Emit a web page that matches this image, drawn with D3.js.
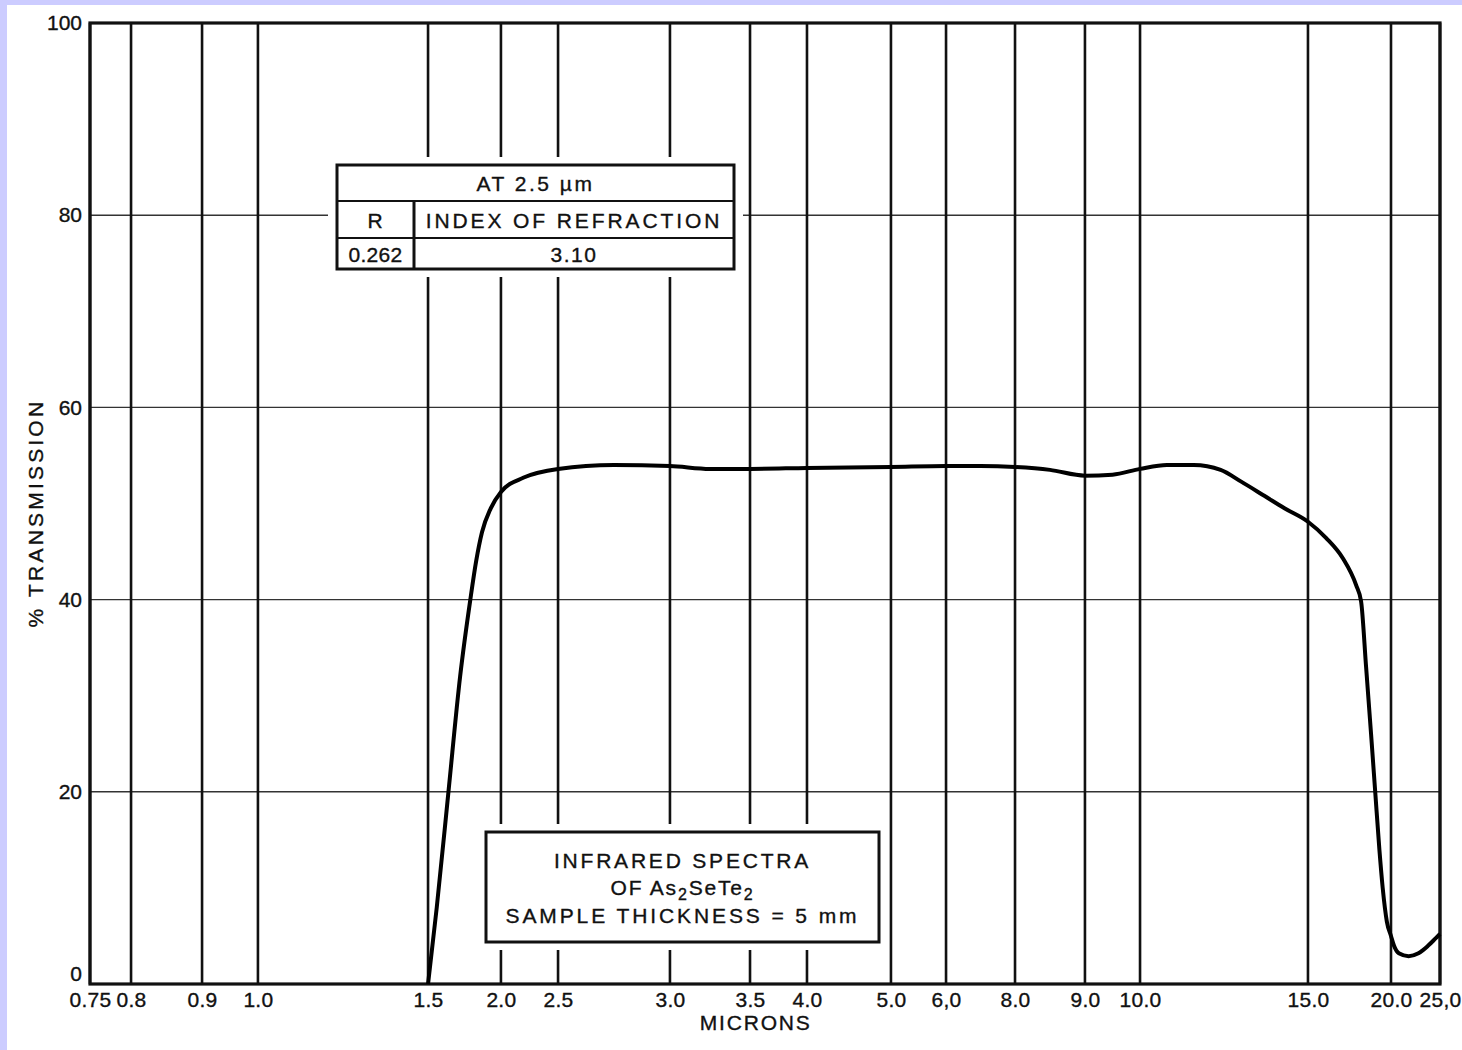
<!DOCTYPE html>
<html>
<head>
<meta charset="utf-8">
<script src="https://cdn.jsdelivr.net/npm/d3@7"></script>
<style>
  html, body { margin: 0; padding: 0; background: #ccccff; }
  #chart { position: absolute; left: 7px; top: 5px; width: 1455px; height: 1045px; background: #fff; }
  svg { position: absolute; left: -7px; top: -5px; }
  text { font-family: "Liberation Sans", Arial, sans-serif; fill: #111; stroke: #111; stroke-width: 0.35px; }
</style>
</head>
<body>
<div id="chart"></div>
<script>
// x axis ticks (microns) - the paper chart uses a non-uniform scale
const xTicks = [0.75, 0.8, 0.9, 1.0, 1.5, 2.0, 2.5, 3.0, 3.5, 4.0, 5.0, 6.0, 8.0, 9.0, 10.0, 15.0, 20.0, 25.0];
const xTickLabels = ['0.75', '0.8', '0.9', '1.0', '1.5', '2.0', '2.5', '3.0', '3.5', '4.0', '5.0', '6,0', '8.0', '9.0', '10.0', '15.0', '20.0', '25,0'];
// where each tick sits along the axis (fraction of plot width)
const xTickFrac = [0, 0.0304, 0.0830, 0.1244, 0.2504, 0.3044, 0.3467, 0.4296, 0.4889, 0.5311, 0.5933, 0.6341, 0.6852, 0.7370, 0.7778, 0.9022, 0.9637, 1];

const yTicks = [0, 20, 40, 60, 80, 100];

// transmission curve
const wavelength = [1.5, 1.56, 1.64, 1.72, 1.79, 1.83, 1.87, 1.93, 2.0, 2.2, 2.5, 2.75, 3.0, 3.25, 3.5, 4.0, 5.0, 6.0, 7.0, 8.0, 8.5, 9.0, 9.5, 10.0, 10.8, 11.6, 12.4, 13.0, 13.7, 14.3, 15.0, 16.1, 17.1, 17.9, 18.2, 18.5, 18.8, 19.05, 19.3, 19.5, 19.75, 20.0, 20.3, 20.8, 21.8, 22.8, 23.8, 24.6, 25.0];
const transmission = [0, 8, 20, 32, 40, 44, 47, 49.5, 51.2, 52.7, 53.6, 54.0, 53.9, 53.6, 53.6, 53.7, 53.8, 53.9, 53.9, 53.8, 53.5, 52.9, 53.0, 53.6, 54.0, 54.0, 53.5, 52.3, 50.8, 49.5, 48.1, 46.4, 44.3, 41.5, 39.8, 33, 26, 20, 14, 10, 6.5, 5.0, 4.0, 3.2, 2.9, 3.2, 4.0, 4.8, 5.2];

const tableHeader = 'AT 2.5 µm';
const tableCols = ['R', 'INDEX OF REFRACTION'];
const tableVals = ['0.262', '3.10'];

const W = 1462, H = 1050;
const margin = { top: 23, right: 22, bottom: 66, left: 90 };
const width = W - margin.left - margin.right;
const height = H - margin.top - margin.bottom;

const svg = d3.select('#chart').append('svg')
  .attr('width', W)
  .attr('height', H);

const g = svg.append('g')
  .attr('transform', `translate(${margin.left},${margin.top})`);

const x = d3.scaleLinear()
  .domain(xTicks)
  .range(xTickFrac.map(f => f * width));

const y = d3.scaleLinear()
  .domain([0, 100])
  .range([height, 0]);

// horizontal grid
g.selectAll('.hgrid')
  .data(yTicks.slice(1, -1))
  .join('line')
  .attr('x1', 0).attr('x2', width)
  .attr('y1', d => y(d)).attr('y2', d => y(d))
  .attr('stroke', '#333')
  .attr('stroke-width', 1.4);

// vertical grid
g.selectAll('.vgrid')
  .data(xTicks)
  .join('line')
  .attr('x1', d => x(d)).attr('x2', d => x(d))
  .attr('y1', y(0)).attr('y2', y(100))
  .attr('stroke', '#111')
  .attr('stroke-width', 2.6);

// frame
g.append('rect')
  .attr('width', width)
  .attr('height', height)
  .attr('fill', 'none')
  .attr('stroke', '#111')
  .attr('stroke-width', 3.2);

// axes
const xAxis = d3.axisBottom(x)
  .tickValues(xTicks)
  .tickFormat((d, i) => xTickLabels[i])
  .tickSize(0)
  .tickPadding(8);

const xg = g.append('g')
  .attr('transform', `translate(0,${height})`)
  .call(xAxis);
xg.select('.domain').remove();
xg.selectAll('text')
  .style('font-size', '21px')
  .style('letter-spacing', '0.3px')
  .attr('fill', '#111');

const yAxis = d3.axisLeft(y)
  .tickValues(yTicks)
  .tickSize(0)
  .tickPadding(8);

const yg = g.append('g').call(yAxis);
yg.select('.domain').remove();
yg.selectAll('text')
  .style('font-size', '21px')
  .attr('fill', '#111')
  .attr('dy', d => d === 0 ? '-0.15em' : '0.32em');

// axis titles
g.append('text')
  .attr('x', x(3.55))
  .attr('y', height + 46)
  .attr('text-anchor', 'middle')
  .style('font-size', '21px')
  .style('letter-spacing', '1.8px')
  .text('MICRONS');

g.append('text')
  .attr('transform', `translate(-47,${y(49)}) rotate(-90)`)
  .attr('text-anchor', 'middle')
  .style('font-size', '21px')
  .style('letter-spacing', '3.2px')
  .text('% TRANSMISSION');

// table box (white knock-out behind it)
const tb = { x: 247, y: 142, w: 397, h: 104, col: 77, r1: 36, r2: 73 };
const table = g.append('g').attr('transform', `translate(${tb.x},${tb.y})`);
table.append('rect')
  .attr('x', -9).attr('y', -8)
  .attr('width', tb.w + 18).attr('height', tb.h + 16)
  .attr('fill', '#fff');
table.append('rect')
  .attr('width', tb.w).attr('height', tb.h)
  .attr('fill', '#fff')
  .attr('stroke', '#111')
  .attr('stroke-width', 3);
table.append('line')
  .attr('x1', 0).attr('x2', tb.w)
  .attr('y1', tb.r1).attr('y2', tb.r1)
  .attr('stroke', '#111').attr('stroke-width', 2.2);
table.append('line')
  .attr('x1', 0).attr('x2', tb.w)
  .attr('y1', tb.r2).attr('y2', tb.r2)
  .attr('stroke', '#111').attr('stroke-width', 2.2);
table.append('line')
  .attr('x1', tb.col).attr('x2', tb.col)
  .attr('y1', tb.r1).attr('y2', tb.h)
  .attr('stroke', '#111').attr('stroke-width', 3);

const cell = (cx, cy, t, ls) => table.append('text')
  .attr('x', cx).attr('y', cy)
  .attr('text-anchor', 'middle')
  .style('font-size', '21px')
  .style('letter-spacing', ls)
  .text(t);

cell(tb.w / 2, 26, tableHeader, '2.5px');
cell(tb.col / 2, 63, tableCols[0], '1px');
cell((tb.col + tb.w) / 2, 63, tableCols[1], '2.9px');
cell(tb.col / 2, 97, tableVals[0], '0.3px');
cell((tb.col + tb.w) / 2, 97, tableVals[1], '1.5px');

// title box
const lb = { x: 396, y: 809, w: 393, h: 110 };
const legend = g.append('g').attr('transform', `translate(${lb.x},${lb.y})`);
legend.append('rect')
  .attr('x', -9).attr('y', -8)
  .attr('width', lb.w + 18).attr('height', lb.h + 16)
  .attr('fill', '#fff');
legend.append('rect')
  .attr('width', lb.w).attr('height', lb.h)
  .attr('fill', '#fff')
  .attr('stroke', '#111')
  .attr('stroke-width', 3);

legend.append('text')
  .attr('x', lb.w / 2).attr('y', 36)
  .attr('text-anchor', 'middle')
  .style('font-size', '21px')
  .style('letter-spacing', '2.8px')
  .text('INFRARED SPECTRA');

const l2 = legend.append('text')
  .attr('x', lb.w / 2).attr('y', 63)
  .attr('text-anchor', 'middle')
  .style('font-size', '21px')
  .style('letter-spacing', '1.8px');
l2.append('tspan').text('OF As');
l2.append('tspan').attr('dy', 5).style('font-size', '16px').text('2');
l2.append('tspan').attr('dy', -5).text('SeTe');
l2.append('tspan').attr('dy', 5).style('font-size', '16px').text('2');

legend.append('text')
  .attr('x', lb.w / 2).attr('y', 91)
  .attr('text-anchor', 'middle')
  .style('font-size', '21px')
  .style('letter-spacing', '2.9px')
  .text('SAMPLE THICKNESS = 5 mm');

// spectrum curve
const data = wavelength.map((w, i) => ({ w, t: transmission[i] }));

const line = d3.line()
  .x(d => x(d.w))
  .y(d => y(d.t))
  .curve(d3.curveMonotoneX);

g.append('path')
  .datum(data)
  .attr('fill', 'none')
  .attr('stroke', '#000')
  .attr('stroke-width', 4)
  .attr('stroke-linejoin', 'round')
  .attr('d', line);
</script>
</body>
</html>
